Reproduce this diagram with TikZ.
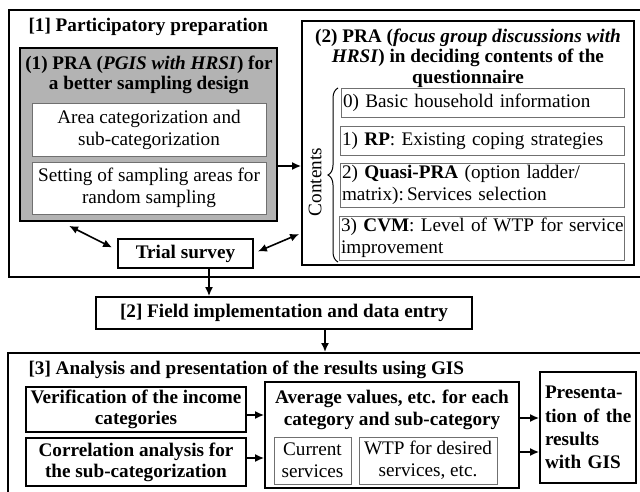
\documentclass[tikz,border=0pt]{standalone}
\usepackage{fontspec}
\setmainfont{Liberation Serif}
\usetikzlibrary{arrows.meta,decorations.pathreplacing}
\definecolor{boxgray}{HTML}{B3B3B3}
\definecolor{thingray}{HTML}{707070}
\begin{document}
\begin{tikzpicture}[x=1pt,y=-1pt,
  every node/.style={font=\fontsize{19.2}{22}\selectfont},
  outer/.style={draw=black, line width=1.8pt, inner sep=0pt},
  thinbox/.style={draw=thingray, line width=0.9pt, fill=white, inner sep=0pt, align=center},
  leftbox/.style={draw=thingray, line width=0.9pt, fill=white, inner xsep=2pt, inner ysep=0pt, align=left},
  boldbox/.style={draw=black, line width=1.8pt, inner sep=0pt, align=center, font=\fontsize{19.2}{21}\selectfont\bfseries},
  arr/.style={-{Latex[length=9pt,width=8pt]}, line width=1.6pt},
  dbl/.style={{Latex[length=9pt,width=8pt]}-{Latex[length=9pt,width=8pt]}, line width=1.6pt}
]
\useasboundingbox (0,0) rectangle (640,492);
\fill[white] (0,0) rectangle (640,492);

% ---------- [1] ----------
\node[outer, anchor=north west, minimum width=634pt, minimum height=267pt] (p1) at (8,9) {};
\node[anchor=base west, font=\fontsize{19.2}{21}\selectfont\bfseries] (t1) at (25,32) {[1] Participatory preparation};

\node[outer, fill=boxgray, minimum width=257pt, minimum height=173pt] (g1) at (148.5,134.5) {};
\node[align=center, font=\fontsize{19.2}{20.5}\selectfont\bfseries] (g1t) at (149,75) {(1) PRA (\textit{PGIS with HRSI}) for\\a better sampling design};
\node[thinbox, minimum width=234pt, minimum height=53pt] (area) at (149,129.5) {Area categorization and\\sub-categorization};
\node[thinbox, minimum width=234pt, minimum height=52pt] (sett) at (149,188) {Setting of sampling areas for\\random sampling};

\node[outer, minimum width=332pt, minimum height=244pt] (b2) at (468,143) {};
\node[align=center, font=\fontsize{19.2}{20.5}\selectfont\bfseries] (b2t) at (468,58) {(2) PRA (\textit{focus group discussions with}\\\textit{HRSI}) in deciding contents of the\\questionnaire};
\node[leftbox, text width=279pt, minimum height=29pt] (c0) at (482.5,102.5) {\mbox{0) Basic household information}};
\node[leftbox, text width=280pt, minimum height=29pt] (c1) at (482,140.5) {\mbox{1) \textbf{RP}: Existing coping strategies}};
\node[leftbox, text width=280pt, minimum height=44pt] (c2) at (482,185) {\mbox{2) \textbf{Quasi-PRA} (option ladder/}\\\mbox{matrix):\,Services selection}};
\node[leftbox, text width=281pt, minimum height=44pt] (c3) at (481.5,238) {\mbox{3) \textbf{CVM}: Level of WTP for service}\\\mbox{improvement}};
\node[rotate=90] (cont) at (315,182) {Contents};
\coordinate (bt) at (338,88);
\coordinate (bb) at (338,262);
\draw[decorate, decoration={brace, amplitude=10pt}, line width=1pt] (bb) -- (bt);

\node[boldbox, minimum width=135pt, minimum height=29pt] (trial) at (185.5,253.5) {Trial survey};

% arrows in [1]
\coordinate (a1) at ([shift={(0,31.5)}]g1.east);
\draw[arr] (a1) -- (a1 -| b2.west);
\draw[dbl] ([shift={(50,4)}]g1.south west) -- ([shift={(-5,-6)}]trial.west);
\draw[dbl] ([shift={(4,-2)}]trial.east) -- ([shift={(-2,91)}]b2.west);

% ---------- [2] ----------
\node[boldbox, minimum width=376pt, minimum height=32pt] (f2) at (284,313) {[2] Field implementation and data entry};
\coordinate (a2) at ([shift={(23.5,0)}]trial.south);
\draw[arr] (a2) -- (a2 |- f2.north);
\coordinate (a3) at ([shift={(41,0)}]f2.south);

% ---------- [3] ----------
\node[outer, anchor=north west, minimum width=635pt, minimum height=145pt] (p3) at (7,352) {};
\draw[arr] (a3) -- (a3 |- p3.north);
\node[anchor=base west, font=\fontsize{19.2}{21}\selectfont\bfseries] (t3) at (25,374) {[3] Analysis and presentation of the results using GIS};

\node[boldbox, minimum width=220pt, minimum height=45pt] (ver) at (136,409.5) {Verification of the income\\categories};
\node[boldbox, minimum width=220pt, minimum height=48pt] (cor) at (136,462) {Correlation analysis for\\the sub-categorization};
\node[outer, minimum width=254pt, minimum height=106pt] (avg) at (392,435) {};
\node[align=center, font=\fontsize{19.2}{22}\selectfont\bfseries] (avgt) at (392,410) {Average values, etc. for each\\category and sub-category};
\node[thinbox, minimum width=77pt, minimum height=47pt] (cur) at (312.5,460.5) {Current\\services};
\node[thinbox, minimum width=138pt, minimum height=47pt] (wtp) at (428,460.5) {WTP for desired\\services, etc.};
\node[draw=black, line width=1.8pt, inner xsep=5pt, inner ysep=0pt, text width=86pt, minimum height=111pt, align=left, font=\fontsize{19.2}{23.3}\selectfont\bfseries] (pres) at (588,427.5) {\mbox{Presenta-}\\\mbox{tion of the}\\\mbox{results}\\\mbox{with GIS}};

\coordinate (v1) at ([shift={(0,5.5)}]ver.east);
\draw[arr] (v1) -- (v1 -| avg.west);
\coordinate (v2) at ([shift={(0,-4)}]cor.east);
\draw[arr] (v2) -- (v2 -| avg.west);
\coordinate (v3) at ([shift={(0,-17)}]avg.east);
\draw[arr] (v3) -- (v3 -| pres.west);
\coordinate (v4) at ([shift={(0,17)}]avg.east);
\draw[arr] (v4) -- (v4 -| pres.west);
\end{tikzpicture}
\end{document}
